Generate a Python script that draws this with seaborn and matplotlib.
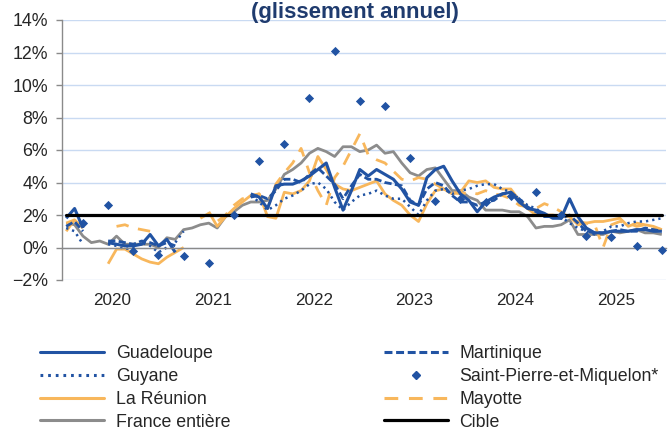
import numpy as np
import pandas as pd
import seaborn as sns
import matplotlib.pyplot as plt
from matplotlib.lines import Line2D
from matplotlib.ticker import FixedLocator, PercentFormatter

sns.set_theme(style="white")
plt.rcParams["font.family"] = ["Liberation Sans", "DejaVu Sans"]

nan = np.nan

# ---------- Data (glissement annuel, %) ------------------------------- #
months = pd.date_range("2020-01-01", "2025-12-01", freq="MS")
years = ["2020", "2021", "2022", "2023", "2024", "2025"]

guadeloupe = [1.8, 2.4, 1.2, nan, nan, 0.3, 0.2, 0.1, 0.1, 0.2, 0.8, 0.1,
              0.5, -0.3, nan, nan, nan, nan, nan, nan, nan, nan, 3.3, 3.1,
              2.4, 3.8, 3.9, 3.9, 4.1, 4.4, 4.8, 5.2, 3.7, 2.3, 3.5, 4.8,
              4.4, 4.8, 4.5, 4.2, 3.6, 2.8, 2.6, 4.3, 4.8, 5.0, 4.1, 3.3,
              2.9, 2.2, 2.8, 3.1, 3.3, 3.4, 2.8, 2.4, 2.3, 2.1, 1.8, 1.8,
              3.0, 1.9, 1.2, 0.9, 0.9, 1.0, 1.0, 1.0, 1.1, 1.1, 1.0, 1.0]

martinique = [1.3, 1.6, 1.0, nan, nan, 0.4, 0.4, 0.3, 0.2, 0.4, 0.3, 0.1,
              0.3, 0.1, nan, nan, nan, nan, nan, nan, nan, nan, 3.1, 3.2,
              3.0, 3.5, 4.2, 4.2, 4.0, 4.5, 4.9, 4.4, 3.9, 3.0, 3.8, 4.5,
              4.2, 4.2, 4.0, 3.9, 3.8, 2.9, 2.6, 3.6, 4.0, 3.8, 3.2, 2.8,
              2.8, 2.6, 2.8, 2.9, 3.3, 3.4, 3.0, 2.5, 2.2, 1.9, 1.9, 1.8,
              2.0, 1.5, 1.0, 0.9, 0.9, 1.0, 1.1, 1.0, 1.0, 1.2, 1.1, 1.0]

guyane = [1.2, 1.0, 0.2, nan, nan, 0.2, 0.1, -0.1, 0.0, 0.3, 0.1, -0.3,
          0.0, 0.3, 1.0, nan, nan, nan, nan, nan, nan, nan, 3.2, 2.8,
          2.3, 2.6, 3.0, 3.2, 3.5, 3.9, 4.0, 3.6, 2.8, 2.3, 2.8, 3.2,
          3.3, 3.5, 3.2, 3.0, 3.0, 2.5, 2.0, 2.9, 3.5, 3.6, 3.3, 3.5,
          3.6, 3.8, 3.9, 3.9, 3.6, 3.4, 3.0, 2.6, 2.4, 2.0, 1.9, 1.9,
          1.5, 1.2, 1.0, 0.8, 1.0, 1.3, 1.3, 1.5, 1.6, 1.6, 1.7, 1.8]

reunion = [1.0, 1.7, 1.2, nan, nan, -1.0, -0.1, -0.1, -0.4, -0.7, -0.9, -1.0,
           -0.6, -0.3, 0.0, nan, nan, 2.2, 1.3, 1.9, 2.4, 2.8, 3.2, 3.3,
           1.9, 1.8, 3.4, 3.3, 3.5, 4.1, 5.6, 4.8, 3.9, 3.6, 3.5, 3.7,
           3.9, 4.1, 3.3, 2.9, 2.6, 2.0, 1.6, 2.7, 3.5, 3.6, 3.3, 3.4,
           4.1, 4.0, 4.1, 3.7, 3.6, 3.6, 2.9, 2.4, 2.0, 2.0, 2.0, 1.9,
           1.9, 1.4, 1.5, 1.6, 1.6, 1.7, 1.8, 1.3, 1.5, 1.4, 1.3, 1.1]

mayotte = [1.5, 1.7, nan, nan, nan, nan, 1.3, 1.4, 1.2, 1.1, 1.0, nan,
           nan, nan, nan, nan, 1.8, 2.1, 1.6, 2.0, 2.6, 3.0, 3.1, 3.3,
           2.4, 3.9, 4.6, 5.2, 6.1, 4.6, 3.5, 2.6, 4.3, 5.0, 6.0, 7.0,
           5.7, 5.4, 5.2, 4.7, 4.2, 4.1, 4.3, 4.2, 3.9, 3.6, 3.4, 3.3,
           3.4, 3.3, 3.5, 3.3, 3.2, 3.0, 2.6, 2.5, 2.4, 2.7, 2.5, 2.2,
           1.8, 1.6, 1.5, 1.4, 0.0, 1.4, 1.6, 1.5, 1.3, 1.4, 1.2, 1.1]

france = [1.5, 1.4, 0.7, 0.3, 0.4, 0.2, 0.7, 0.2, 0.2, 0.2, 0.2, 0.0,
          0.6, 0.5, 1.1, 1.2, 1.4, 1.5, 1.2, 1.9, 2.2, 2.6, 2.8, 2.8,
          2.9, 3.6, 4.5, 4.8, 5.2, 5.8, 6.1, 5.9, 5.6, 6.2, 6.2, 5.9,
          6.0, 6.3, 5.8, 5.9, 5.2, 4.6, 4.4, 4.8, 4.9, 4.2, 3.5, 3.5,
          3.1, 2.9, 2.3, 2.3, 2.3, 2.2, 2.2, 1.9, 1.2, 1.3, 1.3, 1.4,
          1.7, 0.8, 0.8, 0.8, 0.8, 1.0, 0.9, 1.0, 1.1, 0.9, 0.9, 0.8]

# Saint-Pierre-et-Miquelon: quarterly points (Mar, Jun, Sep, Dec)
spm_months = pd.date_range("2020-03-01", "2025-12-01", freq="3MS")
spm = [1.5, 2.6, -0.2, -0.45, -0.55, -0.95, 2.0, 5.3,
       6.4, 9.2, 12.1, 9.0, 8.7, 5.5, 2.85, 3.0,
       2.8, 3.2, 3.4, 2.0, 0.7, 0.65, 0.1, -0.15]

cible = 2.0

# ---------- Styles ---------------------------------------------------- #
blue, orange, grey = "#2153A3", "#F8B75C", "#8C8C8C"

df = pd.DataFrame({"Guadeloupe": guadeloupe, "Martinique": martinique,
                   "Guyane": guyane, "La Réunion": reunion,
                   "Mayotte": mayotte, "France entière": france}, index=months)
df["t"] = np.arange(len(df))
spm_df = pd.DataFrame({"t": [months.get_loc(m) for m in spm_months], "val": spm})

styles = {
    "France entière": dict(color=grey, lw=2.0),
    "La Réunion":     dict(color=orange, lw=2.0),
    "Mayotte":        dict(color=orange, lw=2.0, dashes=(4.5, 3.5)),
    "Guyane":         dict(color=blue, lw=1.8, dashes=(0.9, 1.6)),
    "Martinique":     dict(color=blue, lw=2.0, dashes=(2.6, 1.2)),
    "Guadeloupe":     dict(color=blue, lw=2.2),
}

fig = plt.figure(figsize=(6.7, 4.3), dpi=100)
ax = fig.add_axes([62 / 670, 1 - 280 / 430, 604 / 670, 260 / 430])

for name, st in styles.items():
    ax.plot(df["t"], df[name], solid_capstyle="butt", **st)

ax.axhline(cible, color="black", lw=2.3, xmin=0.006, xmax=0.994, zorder=5)

sns.scatterplot(data=spm_df, x="t", y="val", marker="D", s=22, color=blue,
                edgecolor=blue, linewidth=0, ax=ax, zorder=6, legend=False)

# ---------- Axes ------------------------------------------------------ #
ax.set_xlim(-0.5, len(df) - 0.5)
ax.set_ylim(-2, 14)
ax.set_yticks(np.arange(-2, 15, 2))
ax.yaxis.set_major_formatter(PercentFormatter(decimals=0))
ax.grid(axis="y", color="#C9DAF2", lw=1)
ax.set_axisbelow(True)

for s in ["top", "right"]:
    ax.spines[s].set_visible(False)
ax.spines["left"].set_color("#8A8A8A")
ax.spines["left"].set_linewidth(1)
ax.spines["bottom"].set_position(("data", 0))
ax.spines["bottom"].set_color("#8A8A8A")
ax.spines["bottom"].set_linewidth(1)

bounds = np.arange(11.5, len(df), 12)
centers = np.arange(5.5, len(df), 12)
ax.xaxis.set_major_locator(FixedLocator(bounds))
ax.xaxis.set_minor_locator(FixedLocator(centers))
ax.set_xticklabels([])
ax.set_xticklabels(years, minor=True)
ax.tick_params(axis="x", which="major", direction="out", length=5,
               color="#8A8A8A", width=1)
ax.tick_params(axis="x", which="minor", length=0, pad=33, labelsize=12.3)
ax.tick_params(axis="y", direction="out", length=4, color="#8A8A8A",
               width=1, pad=6, labelsize=12.8, left=True)
ax.set_xlabel(""); ax.set_ylabel("")

fig.text(0.53, 1 - 18 / 430, "(glissement annuel)", ha="center",
         va="baseline", fontsize=16, fontweight="bold", color="#1F3B6E")

# ---------- Legend ---------------------------------------------------- #
def handle(name):
    st = dict(styles[name]); st.pop("lw")
    return Line2D([], [], lw=2.2, **st)

handles = [handle("Guadeloupe"), handle("Guyane"), handle("La Réunion"),
           handle("France entière"),
           handle("Martinique"),
           Line2D([], [], ls="none", marker="D", ms=4.2, color=blue),
           handle("Mayotte"),
           Line2D([], [], color="black", lw=2.3)]
labels = ["Guadeloupe", "Guyane", "La Réunion", "France entière",
          "Martinique", "Saint-Pierre-et-Miquelon*", "Mayotte", "Cible"]
fig.legend(handles, labels, ncol=2, loc="upper left",
           bbox_to_anchor=(33 / 670, 1 - 338 / 430), frameon=False,
           fontsize=12.8, handlelength=3.6, handletextpad=0.65,
           columnspacing=8.65, labelspacing=0.33, borderaxespad=0)

fig.savefig("out.png", dpi=100)
